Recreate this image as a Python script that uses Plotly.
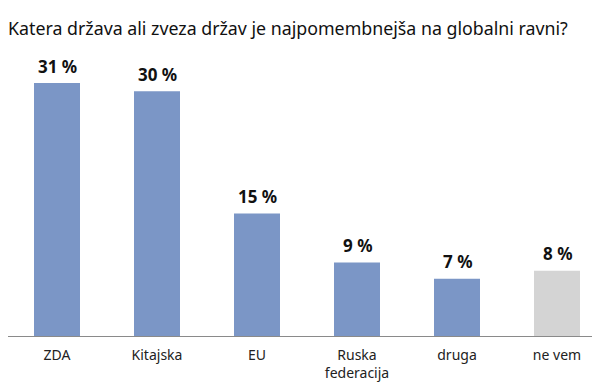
import plotly.graph_objects as go

categories = ["ZDA", "Kitajska", "EU", "Ruska<br>federacija", "druga", "ne vem"]
values = [31, 30, 15, 9, 7, 8]
labels = ["31 %", "30 %", "15 %", "9 %", "7 %", "8 %"]
colors = ["#7b96c6"] * 5 + ["#d4d4d4"]

# the page body has an 8px default margin; figure is sized to fit the window
W, H = 592, 378

fig = go.Figure()
fig.add_trace(go.Bar(
    x=list(range(len(categories))), y=values,
    marker=dict(color=colors, line=dict(width=0)),
    width=0.46,
    hoverinfo="skip",
))
for i, (v, t) in enumerate(zip(values, labels)):
    fig.add_annotation(x=i, y=v, text="<b>%s</b>" % t, showarrow=False,
                       yanchor="middle", yshift=17,
                       font=dict(size=17, color="#111111", family="Noto Sans"))

fig.update_layout(
    width=W, height=H,
    margin=dict(l=0, r=0, t=32, b=50, autoexpand=False),
    paper_bgcolor="white", plot_bgcolor="white",
    showlegend=False,
    title=dict(text="Katera država ali zveza držav je najpomembnejša na globalni ravni?",
               x=0, xanchor="left", y=1 - 21 / H, yanchor="middle",
               font=dict(size=17.8, color="#111111", family="Noto Sans")),
    font=dict(family="Noto Sans", color="#222222"),
)
fig.update_xaxes(
    range=[-0.49, 5.43], automargin=False,
    tickmode="array", tickvals=list(range(len(categories))), ticktext=categories,
    showline=True, linecolor="#8a8a8a", linewidth=1,
    ticks="outside", ticklen=6, tickcolor="rgba(0,0,0,0)",
    tickfont=dict(size=14, color="#222222"),
    showgrid=False, zeroline=False, fixedrange=True,
)
fig.update_yaxes(range=[0, 36.27], visible=False, showgrid=False, zeroline=False,
                 automargin=False)

fig.write_html("out.html")
